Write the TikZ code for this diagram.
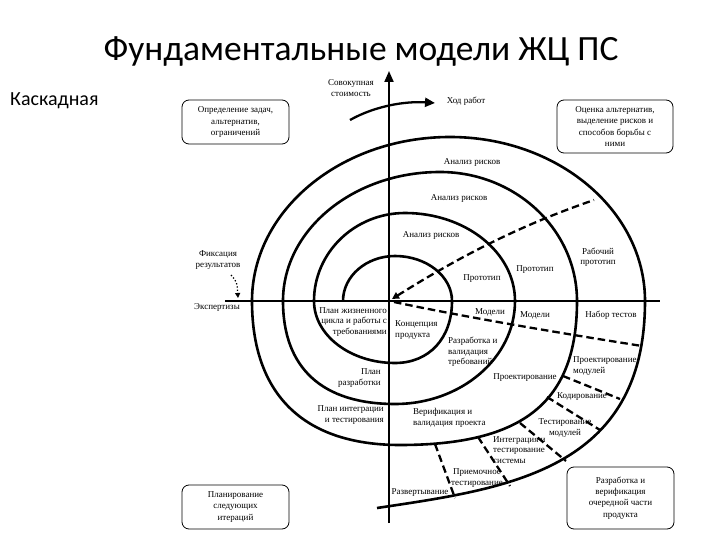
\documentclass[tikz,border=0pt]{standalone}
\usepackage{fontspec}
\setmainfont{Liberation Serif}
\newfontfamily\titlefont{Carlito}
\usetikzlibrary{arrows.meta}
\begin{document}
\begin{tikzpicture}[x=1pt,y=-1pt,
  lbl/.style={font=\fontsize{9}{10.5}\selectfont, inner sep=0pt, align=center},
  boxnode/.style={draw, line width=0.8pt, rounded corners=7pt, align=center, font=\fontsize{9}{11.3}\selectfont, inner sep=0pt},
  spiral/.style={line width=2.6pt},
  axisline/.style={line width=2pt},
  sep/.style={line width=2.3pt, dash pattern=on 7.5pt off 4pt}]
\useasboundingbox (0,0) rectangle (720,540);

% titles
\node[font=\titlefont\fontsize{35.5}{40}\selectfont, anchor=base, inner sep=0pt] (title) at (361,61) {Фундаментальные модели ЖЦ ПС};
\node[font=\titlefont\fontsize{20}{24}\selectfont, anchor=base west, inner sep=0pt] (kind) at (10,106) {Каскадная};

% axes
\coordinate (o) at (389,301);
\coordinate (hl) at (225,301);
\coordinate (hr) at (660,301);
\coordinate (vb) at (389,523);
\coordinate (vt) at (389,71);
\draw[axisline] (hl) -- (hr);
\draw[axisline, -{Triangle[length=11pt,width=9pt]}] (vb) -- (vt);

% spiral
\draw[spiral] (343,301)
  .. controls (343,276.2) and (366.3,256) .. (395,256)
  .. controls (426.5,256) and (452,276.2) .. (452,301)
  .. controls (452,338.2) and (429.2,363) .. (395,363)
  .. controls (350.3,363) and (314,335.2) .. (314,301)
  .. controls (314,252.4) and (354.8,213) .. (405,213)
  .. controls (465.7,213) and (515,252.4) .. (515,301)
  .. controls (515,357.9) and (461.2,404) .. (395,404)
  .. controls (322.2,404) and (283,368) .. (283,301)
  .. controls (283,229.8) and (353.3,172) .. (440,172)
  .. controls (515.6,172) and (577,229.8) .. (577,301)
  .. controls (577,401.8) and (523.9,445) .. (400,445)
  .. controls (303.8,445) and (252,394.6) .. (252,301)
  .. controls (252,210.5) and (340.7,137) .. (450,137)
  .. controls (557.6,137) and (645,210.5) .. (645,301)
  .. controls (645,471) and (507,488.5) .. (377,508);

% work direction arrow
\coordinate (wa) at (350,120);
\coordinate (wb) at (435,103);
\draw[line width=2.3pt, -{Triangle[length=10pt,width=9pt]}] (wa) .. controls (375,106) and (405,101) .. (wb);

% dashed separators
\coordinate (d1a) at (392,299);
\coordinate (d1b) at (594,200);
\draw[sep, {Triangle[length=7pt,width=7pt]}-] (d1a) .. controls (470,250) and (530,222) .. (d1b);
\coordinate (d2a) at (394,302);
\coordinate (d2b) at (642,346);
\draw[sep] (d2a) .. controls (470,318) and (560,333) .. (d2b);
\coordinate (d3a) at (563,376); \coordinate (d3b) at (620,399);
\draw[sep] (d3a) -- (d3b);
\coordinate (d4a) at (547,397); \coordinate (d4b) at (600,430);
\draw[sep] (d4a) -- (d4b);
\coordinate (d5a) at (520,423); \coordinate (d5b) at (566,461);
\draw[sep] (d5a) -- (d5b);
\coordinate (d6a) at (478,437); \coordinate (d6b) at (510,486);
\draw[sep] (d6a) -- (d6b);
\coordinate (d7a) at (435,444); \coordinate (d7b) at (455,498);
\draw[sep] (d7a) -- (d7b);

% boxes
\node[boxnode, minimum width=107pt, minimum height=44pt] (b1) at (235.5,122) {Определение задач,\\альтернатив,\\ограничений};
\node[boxnode, minimum width=116pt, minimum height=53pt] (b2) at (615,126.5) {Оценка альтернатив,\\выделение рисков и\\способов борьбы с\\ними};
\node[boxnode, minimum width=107pt, minimum height=44pt] (b3) at (235.5,507) {Планирование\\следующих\\итераций};
\node[boxnode, minimum width=107pt, minimum height=62pt] (b4) at (620.5,498) {Разработка и\\верификация\\очередной части\\продукта};

% axis labels
\node[lbl] (cost) at (351,88) {Совокупная\\стоимость};
\node[lbl] (work) at (466,101) {Ход работ};
\node[lbl] (fix) at (218,260) {Фиксация\\результатов};
\node[lbl] (expert) at (217,307) {Экспертизы};
\coordinate (fa) at (231,275);
\coordinate (fb) at (238,298);
\draw[line width=1.3pt, dotted, -{Triangle[length=5pt,width=5pt]}] (fa) .. controls (237,282) .. (fb);

% inner labels
\node[lbl] (ar1) at (472,162) {Анализ рисков};
\node[lbl] (ar2) at (459,198) {Анализ рисков};
\node[lbl] (ar3) at (431,235) {Анализ рисков};
\node[lbl] (pr1) at (482,279) {Прототип};
\node[lbl] (pr2) at (535,270) {Прототип};
\node[lbl] (wpr) at (598,257) {Рабочий\\прототип};
\node[lbl] (md1) at (490,312) {Модели};
\node[lbl] (md2) at (535,315) {Модели};
\node[lbl] (tst) at (611,315) {Набор тестов};
\node[lbl, align=right, anchor=east] (pl1) at (387,322) {План жизненного\\цикла и работы с\\требованиями};
\node[lbl, align=left, anchor=west] (cpt) at (395,330) {Концепция\\продукта};
\node[lbl, align=left, anchor=west] (req) at (448,352) {Разработка и\\валидация\\требований};
\node[lbl, align=right, anchor=east] (pl2) at (381,378) {План\\разработки};
\node[lbl] (dsg) at (525,378) {Проектирование};
\node[lbl, align=left, anchor=west] (mds) at (573,366) {Проектирование\\модулей};
\node[lbl] (cod) at (582,397) {Кодирование};
\node[lbl, align=right, anchor=east] (pl3) at (384,415) {План интеграции\\и тестирования};
\node[lbl, align=left, anchor=west] (ver) at (413,418) {Верификация и\\валидация проекта};
\node[lbl] (mts) at (565,428) {Тестирование\\модулей};
\node[lbl, align=left, anchor=west] (int) at (493,450) {Интеграция и\\тестирование\\системы};
\node[lbl] (acc) at (477,478) {Приемочное\\тестирование};
\node[lbl] (dep) at (420,493) {Развертывание};
\end{tikzpicture}
\end{document}
